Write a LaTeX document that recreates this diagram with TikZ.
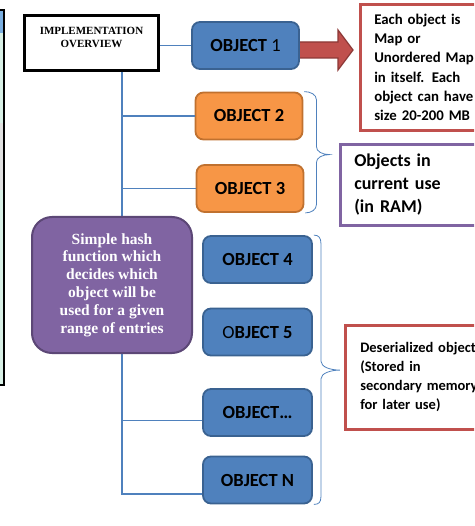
\documentclass[tikz,border=0pt]{standalone}
\usepackage{fontspec}
\setmainfont{Liberation Serif}
\newfontfamily\calibri{Carlito}
\definecolor{objblue}{HTML}{4F81BD}
\definecolor{objblueline}{HTML}{3A6291}
\definecolor{objorange}{HTML}{F79646}
\definecolor{objorangeline}{HTML}{C0712F}
\definecolor{hashpurple}{HTML}{8064A2}
\definecolor{hashpurpleline}{HTML}{5C4776}
\definecolor{notered}{HTML}{C0504D}
\definecolor{noteredline}{HTML}{8C3836}
\definecolor{sidegreen}{HTML}{D8F0E6}
\definecolor{sideblue}{HTML}{7AAEE0}
\begin{document}
\begin{tikzpicture}[x=1pt,y=-1pt,
  obj/.style={rectangle, rounded corners=8pt, line width=1.8pt, draw=objblueline, fill=objblue,
    minimum width=107pt, minimum height=47pt, inner sep=0pt,
    font=\calibri\bfseries\fontsize{18.5}{20}\selectfont},
  objram/.style={obj, draw=objorangeline, fill=objorange},
  link/.style={objblue, line width=1.1pt},
  curly/.style={objblue, line width=0.8pt},
  note/.style={rectangle, line width=2.6pt, align=left, anchor=north west, inner xsep=14pt,
    font=\calibri\bfseries}]
\useasboundingbox (0,0) rectangle (474,526);
\clip (0,0) rectangle (474,526);

% part of the next panel at the left edge
\draw[line width=1.4pt, fill=sidegreen] (-20,10) rectangle (4,385);
\fill[sideblue] (-20,11) rectangle (3.3,33);
\fill[black!12] (-20,123) rectangle (3.3,190);
\draw[line width=1.4pt] (4,10) -- (4,385) -- (-20,385);

\node[draw, line width=3pt, minimum width=134pt, minimum height=55pt, inner sep=0pt,
  font=\bfseries\fontsize{11}{13.5}\selectfont] (impl) at (91.5,43)
  {\parbox[c][48pt][t]{130pt}{\vspace*{8pt}\centering IMPLEMENTATION\\OVERVIEW}};

\draw[fill=notered, draw=noteredline, line width=1.2pt]
  (296,42) -- (338,42) -- (338,30) -- (353,50) -- (338,70) -- (338,58) -- (296,58) -- cycle;

\node[obj] (obj1) at (245.5,45.5) {OBJECT \textmd{1}};
\node[objram] (obj2) at (249,116) {OBJECT 2};
\node[objram] (obj3) at (250,188.5) {OBJECT 3};
\node[obj, minimum width=109pt] (obj4) at (257.5,259.5) {OBJECT 4};
\node[obj, minimum width=109pt] (obj5) at (257.5,332) {\textmd{O}BJECT 5};
\node[obj, minimum width=109pt] (objdots) at (257.5,412.5) {OBJECT\ldots};
\node[obj, minimum width=109pt] (objN) at (257.5,480) {OBJECT N};

% hash tree
\coordinate (trunk) at (122,494);
\draw[link] (impl.east |- obj1.west) -- (obj1.west);
\draw[link] (impl.south -| trunk) -- (trunk) -- ([yshift=-14pt]objN.west);
\draw[link] (trunk |- obj2.west) -- (obj2.west);
\draw[link] (trunk |- obj3.west) -- (obj3.west);
\draw[link] ([yshift=-8pt]objdots.west -| trunk) -- ([yshift=-8pt]objdots.west);

\node[rectangle, rounded corners=20pt, line width=2pt, draw=hashpurpleline, fill=hashpurple,
  minimum width=160pt, minimum height=136pt, text=white, align=center,
  font=\bfseries\fontsize{15.5}{17.8}\selectfont] (hash) at (112,285)
  {Simple hash\\function which\\decides which\\object will be\\used for a given\\range of entries};

% notes
\node[note, draw=notered, text width=130pt, minimum height=126pt,
  font=\calibri\bfseries\fontsize{14.8}{19.2}\selectfont] (eachnote) at (359,3)
  {Each object is\\Map or\\Unordered Map\\in itself. Each\\object can have\\size 20-200 MB};
\node[note, draw=hashpurple, text width=130pt, minimum height=81pt,
  font=\calibri\bfseries\fontsize{18}{23}\selectfont] (ramnote) at (339,143)
  {Objects in\\current use\\(in RAM)};
\node[note, draw=notered, text width=140pt, minimum height=104pt, inner xsep=15pt,
  font=\calibri\bfseries\fontsize{14.5}{19}\selectfont] (disknote) at (344,324)
  {Deserialized objects\\(Stored in\\secondary memory\\for later use)\\[-4.5pt]};

% braces
\draw[curly] ([xshift=1pt]obj2.north east) .. controls +(6,0) and +(0,-5) .. ++(12,8)
  -- ++(0,47) .. controls +(0,5) and +(-7,0) .. ++(13,8)
  .. controls +(-7,0) and +(0,-5) .. ++(-13,8)
  -- ++(0,42) .. controls +(0,5) and +(6,0) .. ([xshift=1pt]obj3.south east);
\draw[curly] ([xshift=1pt]obj4.north east) .. controls +(5,0) and +(0,-5) .. ++(7,8)
  -- ++(0,118) .. controls +(0,6) and +(-9,0) .. ++(19,9)
  .. controls +(-9,0) and +(0,-6) .. ++(-19,9)
  -- ++(0,118) .. controls +(0,5) and +(5,0) .. ([xshift=1pt]objN.south east);
\end{tikzpicture}
\end{document}
